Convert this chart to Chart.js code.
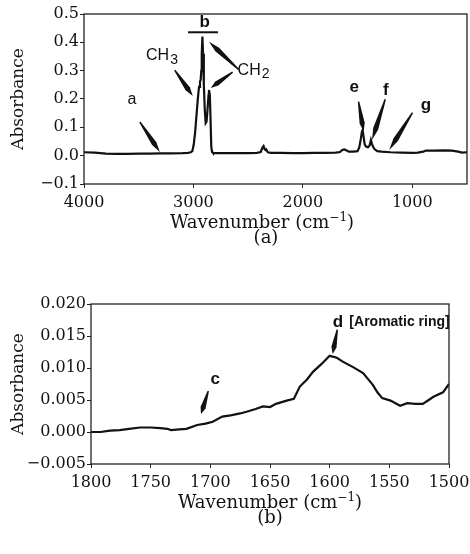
<!DOCTYPE html>
<html>
<head>
<meta charset="utf-8">
<script src="https://cdn.jsdelivr.net/npm/chart.js@4.4.1/dist/chart.umd.min.js"></script>
<style>
  body { margin: 0; background: #fff; }
  #wrap { position: relative; width: 470px; height: 554px; overflow: hidden; }
  .box { position: absolute; left: 0; width: 470px; height: 250px; }
  .cap { position: absolute; width: 470px; text-align: center; font: 18px/22px "DejaVu Serif"; color: #111; }
  .cap sup { font-size: 12px; line-height: 0; }
</style>
</head>
<body>
<div id="wrap">
  <div class="box" style="top:0"><canvas id="chartA"></canvas></div>
  <div class="cap" style="top:211px; left:27px">Wavenumber (cm<sup>−1</sup>)</div>
  <div class="cap" style="top:226px; left:31px">(a)</div>
  <div class="box" style="top:280px; width:490px"><canvas id="chartB"></canvas></div>
  <div class="cap" style="top:491px; left:35px">Wavenumber (cm<sup>−1</sup>)</div>
  <div class="cap" style="top:506px; left:35px">(b)</div>
</div>
<script>
// (a) full spectrum
var wnA = [4000, 3900, 3850, 3800, 3700, 3600, 3500, 3400, 3300, 3200, 3100, 3050, 3025,
  3010, 2997, 2985, 2973, 2960, 2949, 2940, 2934, 2928, 2924, 2918, 2912, 2905, 2896, 2888,
  2880, 2870, 2862, 2858, 2850, 2843, 2837, 2830, 2822, 2800, 2750, 2700, 2600, 2500, 2420,
  2385, 2370, 2359, 2350, 2342, 2335, 2320, 2290, 2200, 2100, 2000, 1900, 1800, 1700, 1660,
  1640, 1620, 1600, 1580, 1540, 1500, 1484, 1470, 1460, 1454, 1446, 1435, 1423, 1405, 1390,
  1378, 1368, 1348, 1320, 1280, 1200, 1100, 1000, 950, 900, 875, 800, 700, 637, 580, 545, 500];
var absA = [0.012, 0.011, 0.009, 0.007, 0.006, 0.006, 0.007, 0.007, 0.008, 0.008, 0.009, 0.010, 0.012,
  0.016, 0.040, 0.080, 0.138, 0.200, 0.243, 0.262, 0.267, 0.300, 0.360, 0.420, 0.360, 0.250, 0.160, 0.115,
  0.120, 0.170, 0.215, 0.232, 0.215, 0.120, 0.032, 0.014, 0.010, 0.009, 0.009, 0.009, 0.009, 0.009, 0.010,
  0.013, 0.028, 0.034, 0.024, 0.020, 0.022, 0.012, 0.010, 0.010, 0.009, 0.009, 0.010, 0.010, 0.011, 0.013,
  0.020, 0.022, 0.018, 0.014, 0.014, 0.016, 0.030, 0.060, 0.085, 0.090, 0.070, 0.040, 0.032, 0.030, 0.036,
  0.055, 0.040, 0.024, 0.016, 0.014, 0.012, 0.011, 0.010, 0.011, 0.014, 0.018, 0.018, 0.019, 0.018, 0.014, 0.011, 0.012];
var xTicksA = [4000, 3000, 2000, 1000];
var yTicksA = [-0.1, 0.0, 0.1, 0.2, 0.3, 0.4, 0.5];

// (b) 1800-1500 detail
var wnB = [1800, 1792, 1784, 1776, 1768, 1759, 1750, 1742, 1736, 1733, 1726, 1720, 1711, 1704, 1698,
  1690, 1683, 1675, 1669, 1662, 1656, 1650, 1645, 1636, 1630, 1625, 1619, 1614, 1607, 1600, 1594,
  1589, 1580, 1572, 1564, 1560, 1556, 1549, 1541, 1535, 1528, 1522, 1517, 1513, 1505, 1500];
var absB = [0.0000, 0.0000, 0.0002, 0.0003, 0.0005, 0.0007, 0.0007, 0.0006, 0.0005, 0.0003, 0.0004, 0.0005,
  0.0011, 0.0013, 0.0016, 0.0024, 0.0026, 0.0029, 0.0032, 0.0036, 0.0040, 0.0039, 0.0044, 0.0049, 0.0052,
  0.0071, 0.0082, 0.0094, 0.0106, 0.0119, 0.0116, 0.0110, 0.0101, 0.0092, 0.0074, 0.0062, 0.0053, 0.0049,
  0.0041, 0.0045, 0.0044, 0.0044, 0.0050, 0.0055, 0.0062, 0.0075];
var xTicksB = [1800, 1750, 1700, 1650, 1600, 1550, 1500];
var yTicksB = [-0.005, 0.000, 0.005, 0.010, 0.015, 0.020];

// labels and arrows, in data units
var labelsA = [
  { text: 'a', x: 3562, y: 0.197 },
  { text: 'CH', sub: '3', x: 3292, y: 0.352 },
  { text: 'b', x: 2897, y: 0.472, bold: true },
  { text: 'CH', sub: '2', x: 2455, y: 0.302 },
  { text: 'e', x: 1530, y: 0.243, bold: true },
  { text: 'f', x: 1241, y: 0.229, bold: true },
  { text: 'g', x: 876, y: 0.179, bold: true }
];
var arrowsA = [
  { from: [3490, 0.119], to: [3307, 0.013] },
  { from: [3171, 0.302], to: [3006, 0.211] },
  { from: [2585, 0.303], to: [2858, 0.402] },
  { from: [2642, 0.295], to: [2842, 0.239] },
  { from: [1491, 0.191], to: [1445, 0.085] },
  { from: [1247, 0.199], to: [1368, 0.055] },
  { from: [998, 0.152], to: [1211, 0.020] }
];
var barsA = [{ from: [3049, 0.4355], to: [2776, 0.4355] }];

var labelsB = [
  { text: 'c', x: 1696, y: 0.0082, bold: true },
  { text: 'd', x: 1593, y: 0.0172, bold: true },
  { text: '[Aromatic ring]', x: 1583.5, y: 0.0172, bold: true, small: true, left: true }
];
var arrowsB = [
  { from: [1701.7, 0.0064], to: [1707.8, 0.0028] },
  { from: [1593.6, 0.0160], to: [1597.5, 0.0122] }
];

var frame = {
  id: 'frame',
  afterDatasetsDraw: function(chart) {
    var a = chart.chartArea, ctx = chart.ctx;
    ctx.save();
    ctx.strokeStyle = '#222';
    ctx.lineWidth = 1.3;
    ctx.strokeRect(a.left, a.top, a.right - a.left, a.bottom - a.top);
    ctx.restore();
  }
};

var marks = {
  id: 'marks',
  afterDatasetsDraw: function(chart, args, opts) {
    var ctx = chart.ctx, sx = chart.scales.x, sy = chart.scales.y;
    function px(p) { return [sx.getPixelForValue(p[0]), sy.getPixelForValue(p[1])]; }
    ctx.save();
    ctx.fillStyle = '#111';
    ctx.strokeStyle = '#111';
    (opts.arrows || []).forEach(function(ar) {
      var t = px(ar.from), h = px(ar.to);
      var dx = h[0] - t[0], dy = h[1] - t[1];
      var len = Math.sqrt(dx * dx + dy * dy);
      var ux = dx / len, uy = dy / len, nx = -uy, ny = ux;
      var mx = t[0] + dx * 0.72, my = t[1] + dy * 0.72;
      ctx.beginPath();
      ctx.moveTo(t[0] + nx * 0.7, t[1] + ny * 0.7);
      ctx.lineTo(mx + nx * 2.6, my + ny * 2.6);
      ctx.lineTo(h[0], h[1]);
      ctx.lineTo(mx - nx * 2.6, my - ny * 2.6);
      ctx.lineTo(t[0] - nx * 0.7, t[1] - ny * 0.7);
      ctx.closePath();
      ctx.fill();
    });
    (opts.bars || []).forEach(function(b) {
      var p = px(b.from), q = px(b.to);
      ctx.lineWidth = 2;
      ctx.beginPath();
      ctx.moveTo(p[0], p[1]);
      ctx.lineTo(q[0], q[1]);
      ctx.stroke();
    });
    ctx.textBaseline = 'middle';
    (opts.labels || []).forEach(function(l) {
      var p = px([l.x, l.y]);
      var size = l.small ? 14 : (l.bold ? 17 : 16);
      ctx.font = (l.bold ? 'bold ' : '') + size + 'px "Liberation Sans", Arial, sans-serif';
      var w = ctx.measureText(l.text).width;
      var sw = 0;
      if (l.sub) {
        ctx.font = '14px "Liberation Sans", Arial, sans-serif';
        sw = ctx.measureText(l.sub).width;
        ctx.font = size + 'px "Liberation Sans", Arial, sans-serif';
      }
      var x0 = l.left ? p[0] : p[0] - (w + sw) / 2;
      ctx.textAlign = 'left';
      ctx.fillText(l.text, x0, p[1]);
      if (l.sub) {
        ctx.font = '14px "Liberation Sans", Arial, sans-serif';
        ctx.fillText(l.sub, x0 + w + 1, p[1] + 4);
      }
    });
    ctx.restore();
  }
};

function makeChart(id, wn, ab, xTicks, yTicks, digits, yWidth, pad, notes) {
  var pts = wn.map(function(w, i) { return { x: w, y: ab[i] }; });
  return new Chart(document.getElementById(id), {
    type: 'line',
    data: {
      datasets: [{
        data: pts,
        borderColor: '#111',
        borderWidth: 2.2,
        pointRadius: 0,
        tension: 0,
        fill: false
      }]
    },
    options: {
      responsive: true,
      maintainAspectRatio: false,
      animation: false,
      layout: { padding: pad },
      plugins: {
        legend: { display: false },
        tooltip: { enabled: false },
        marks: notes
      },
      scales: {
        x: {
          type: 'linear',
          reverse: true,
          min: Math.min.apply(null, wn),
          max: Math.max.apply(null, wn),
          afterBuildTicks: function(s) { s.ticks = xTicks.map(function(v) { return { value: v }; }); },
          afterFit: function(s) { s.height = 40; },
          border: { display: false },
          grid: { drawOnChartArea: false, tickLength: 4, color: '#222' },
          ticks: {
            color: '#111',
            padding: 5,
            maxRotation: 0,
            font: { family: '"DejaVu Serif"', size: 16 },
            callback: function(v) { return String(v); }
          }
        },
        y: {
          min: yTicks[0],
          max: yTicks[yTicks.length - 1],
          afterBuildTicks: function(s) { s.ticks = yTicks.map(function(v) { return { value: v }; }); },
          afterFit: function(s) { s.width = yWidth; },
          border: { display: false },
          grid: { drawOnChartArea: false, tickLength: 4, color: '#222' },
          ticks: {
            color: '#111',
            padding: 1,
            font: { family: '"DejaVu Serif"', size: 16 },
            callback: function(v) { return v < 0 ? '\u2212' + Math.abs(v).toFixed(digits) : v.toFixed(digits); }
          },
          title: {
            display: true,
            text: 'Absorbance',
            color: '#111',
            padding: { top: 8, bottom: 0 },
            font: { family: '"DejaVu Serif"', size: 17 }
          }
        }
      }
    },
    plugins: [frame, marks]
  });
}

makeChart('chartA', wnA, absA, xTicksA, yTicksA, 1, 84,
  { top: 14, right: 3, bottom: 26, left: 0 },
  { labels: labelsA, arrows: arrowsA, bars: barsA });
makeChart('chartB', wnB, absB, xTicksB, yTicksB, 3, 91,
  { top: 24, right: 41, bottom: 26, left: 0 },
  { labels: labelsB, arrows: arrowsB });
</script>
</body>
</html>
